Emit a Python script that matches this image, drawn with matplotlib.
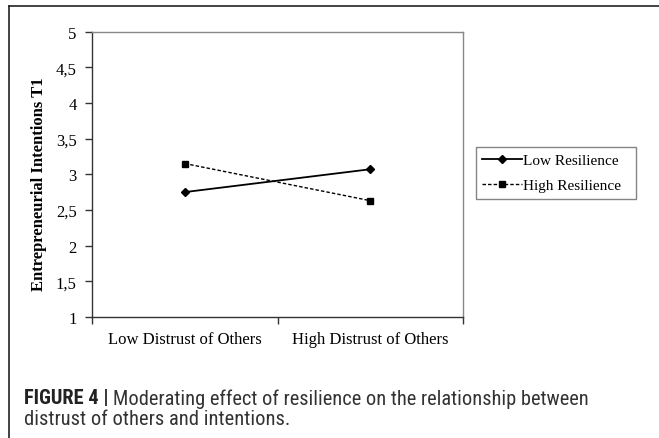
import matplotlib
matplotlib.use("Agg")
import matplotlib.pyplot as plt
from matplotlib.lines import Line2D

# --- data ---------------------------------------------------------------
categories = ["Low Distrust of Others", "High Distrust of Others"]
low_resilience = [2.75, 3.07]
high_resilience = [3.15, 2.63]
y_ticks = [1, 1.5, 2, 2.5, 3, 3.5, 4, 4.5, 5]
y_tick_labels = ["1", "1,5", "2", "2,5", "3", "3,5", "4", "4,5", "5"]
caption_head = "FIGURE 4 |"
caption_line1 = "Moderating effect of resilience on the relationship between"
caption_line2 = "distrust of others and intentions."

SERIF = ["Liberation Serif", "DejaVu Serif"]
CAP_FONT = ["Roboto Condensed", "Liberation Sans", "DejaVu Sans"]

W, H = 659, 439
fig = plt.figure(figsize=(W / 100, H / 100), dpi=100)
fig.patch.set_facecolor("white")

# outer frame (cropped on the right and bottom in the reference)
fig.add_artist(Line2D([9 / W, 9 / W], [0, 1 - 7 / H], transform=fig.transFigure,
                      color="#222222", lw=1.2))
fig.add_artist(Line2D([9 / W, 1], [1 - 7 / H, 1 - 7 / H], transform=fig.transFigure,
                      color="#222222", lw=1.2))

ax = fig.add_axes([92 / W, 1 - 318 / H, (463 - 92) / W, (318 - 32.5) / H])
x = [0.5, 1.5]
ax.plot(x, low_resilience, color="black", lw=1.3, marker="D", ms=4.5,
        label="Low Resilience")
ax.plot(x, high_resilience, color="black", lw=1.0, ls=(0, (2.5, 1.5)), marker="s",
        ms=5, label="High Resilience")

ax.set_xlim(0, 2)
ax.set_ylim(1, 5)
ax.set_yticks(y_ticks)
ax.set_yticklabels(y_tick_labels, fontfamily=SERIF, fontsize=12)
ax.set_xticks([0, 1, 2])
ax.set_xticklabels([])
ax.set_xticks(x, minor=True)
ax.set_xticklabels(categories, minor=True, fontfamily=SERIF, fontsize=12)
ax.tick_params(axis="x", which="minor", length=0, pad=10)
ax.tick_params(axis="x", which="major", length=5, width=1, color="#333333")
ax.tick_params(axis="y", length=5, width=1, color="#333333", pad=6)

for side in ("top", "right"):
    ax.spines[side].set_color("#888888")
    ax.spines[side].set_linewidth(1.0)
for side in ("left", "bottom"):
    ax.spines[side].set_color("#333333")
    ax.spines[side].set_linewidth(1.0)

ax.set_ylabel("Entrepreneurial Intentions T1", fontfamily=SERIF, fontsize=12,
              fontweight="bold")
ax.yaxis.set_label_coords(-0.122, 0.47)

leg = ax.legend(loc="center left", bbox_to_anchor=(476 / W, 1 - 200 / H, 160 / W, 52 / H),
                bbox_transform=fig.transFigure, mode="expand", borderaxespad=0,
                prop={"family": SERIF, "size": 11}, frameon=True, fancybox=False,
                handlelength=2.6, handletextpad=0.1, labelspacing=0.75,
                borderpad=0.4)
leg.get_frame().set_edgecolor("#666666")
leg.get_frame().set_linewidth(1.0)

# caption: fit the first line between x=24 and x=590 px
size = 13.0
for _ in range(3):
    for t in list(fig.texts):
        t.remove()
    t1 = fig.text(24 / W, 1 - 399 / H, caption_head, fontfamily=CAP_FONT,
                  fontsize=size, fontweight="bold", color="#222222",
                  va="center", ha="left")
    fig.canvas.draw()
    bb = t1.get_window_extent()
    t2 = fig.text((bb.x1 + 4) / W, 1 - 399 / H, caption_line1, fontfamily=CAP_FONT,
                  fontsize=size, color="#333333", va="center", ha="left")
    fig.canvas.draw()
    right = t2.get_window_extent().x1
    size *= (590 - 24) / (right - 24)
fig.text(24 / W, 1 - 420 / H, caption_line2, fontfamily=CAP_FONT, fontsize=size,
         color="#333333", va="center", ha="left")

fig.savefig("out.png", dpi=100, facecolor="white")
